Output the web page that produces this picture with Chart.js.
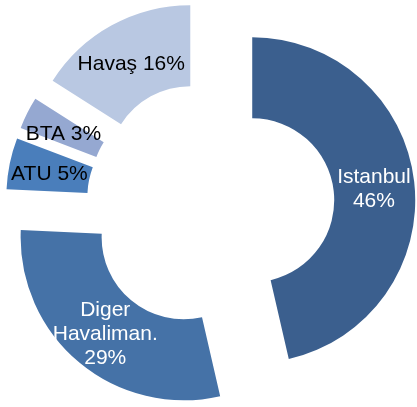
<!DOCTYPE html>
<html>
<head>
<meta charset="utf-8">
<script src="https://cdn.jsdelivr.net/npm/chart.js@4.4.1/dist/chart.umd.min.js"></script>
<style>
  html, body { margin: 0; padding: 0; background: #ffffff; }
  #chart { display: block; }
</style>
</head>
<body>
<canvas id="chart" width="417" height="407"></canvas>
<script>
// slice names ("\n" = line break in the label) and their shares
const categories = ["Istanbul", "Diger\nHavaliman.", "ATU", "BTA", "Havaş"];
const shares = [46.4, 29.3, 5.1, 3.2, 16.0];
const sliceColors = ["#3b5f8e", "#4572a7", "#4a7ebb", "#95a8d1", "#b9c8e2"];
const labelColors = ["#ffffff", "#ffffff", "#000000", "#000000", "#000000"];

const explodeDistance = 42;

// pull every slice out along its own middle angle (like an exploded Excel pie)
const explodePlugin = {
    id: "explode",
    afterDatasetUpdate(chart, args) {
        args.meta.data.forEach(arc => {
            const mid = (arc.startAngle + arc.endAngle) / 2;
            arc.x += Math.cos(mid) * explodeDistance;
            arc.y += Math.sin(mid) * explodeDistance;
        });
    }
};

const sliceLabelPlugin = {
    id: "sliceLabels",
    afterDatasetsDraw(chart) {
        const ctx = chart.ctx;
        const meta = chart.getDatasetMeta(0);
        const total = shares.reduce((a, b) => a + b, 0);
        const lineHeight = 24;
        ctx.save();
        ctx.font = '21px "Liberation Sans", Arial, sans-serif';
        ctx.textAlign = "center";
        ctx.textBaseline = "middle";
        meta.data.forEach((arc, i) => {
            const pct = Math.round(shares[i] / total * 100) + "%";
            let lines;
            if (shares[i] > 20) {
                lines = categories[i].split("\n").concat(pct);
            } else {
                lines = [categories[i] + " " + pct];
            }
            const pos = arc.tooltipPosition();
            let y = pos.y + 3 - (lines.length - 1) * lineHeight / 2;
            ctx.fillStyle = labelColors[i];
            lines.forEach(line => {
                ctx.fillText(line, pos.x, y);
                y += lineHeight;
            });
        });
        ctx.restore();
    }
};

const graph = new Chart(document.getElementById("chart"), {
    type: "doughnut",
    data: {
        labels: categories,
        datasets: [
            {
                data: shares,
                backgroundColor: sliceColors,
                borderWidth: 0
            }
        ]
    },
    options: {
        responsive: false,
        animation: false,
        events: [],
        radius: 163,
        cutout: "50.3%",
        layout: {
            padding: { left: 4, top: 3 }
        },
        plugins: {
            legend: { display: false },
            tooltip: { enabled: false }
        }
    },
    plugins: [explodePlugin, sliceLabelPlugin]
});
</script>
</body>
</html>
